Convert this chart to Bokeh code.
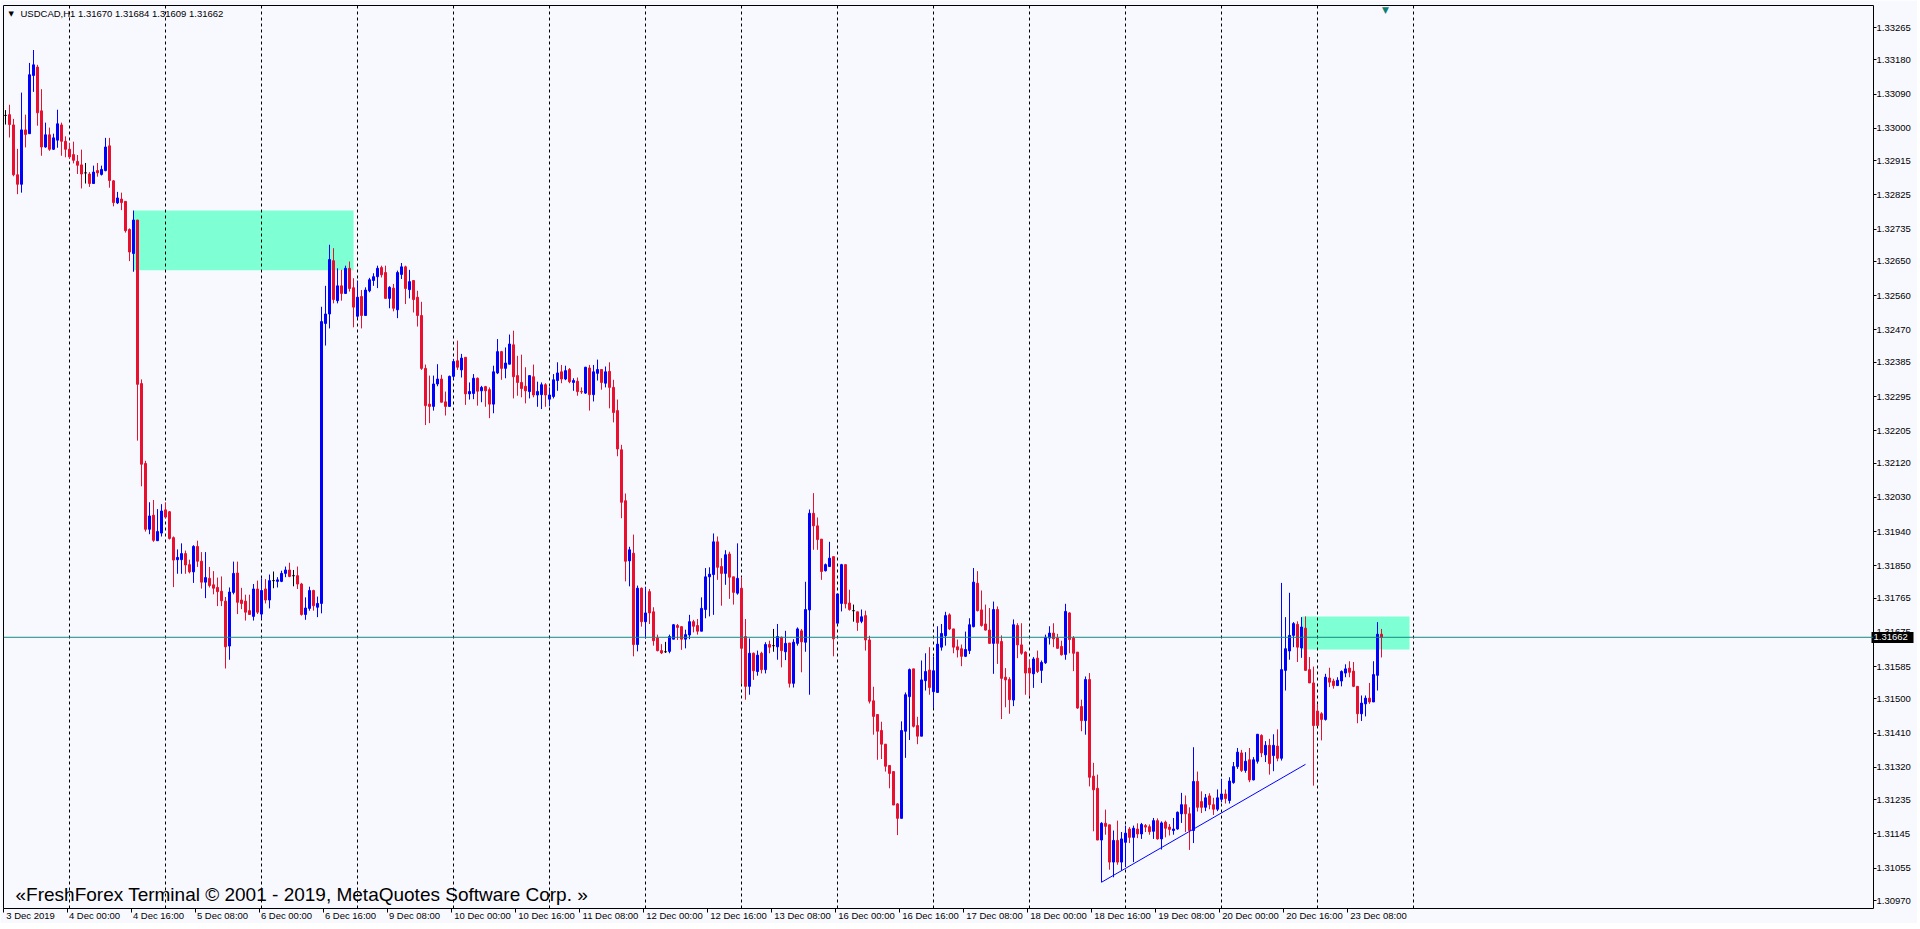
import math
import pandas as pd
from bokeh.plotting import figure
from bokeh.models import (Range1d, FixedTicker, PrintfTickFormatter, Span, Label,
                          ColumnDataSource, LinearAxis)
from bokeh.embed import file_html
from bokeh.resources import INLINE

symbol = "USDCAD,H1"
trading_days = ["2019-12-03", "2019-12-04", "2019-12-05", "2019-12-06", "2019-12-09",
                "2019-12-10", "2019-12-11", "2019-12-12", "2019-12-13", "2019-12-16",
                "2019-12-17", "2019-12-18", "2019-12-19", "2019-12-20", "2019-12-23"]
first_hour = 8
last_hour = 16

open_ = [
 1.33034, 1.33036, 1.33009, 1.32878, 1.32853, 1.32996, 1.32986, 1.33139, 1.33161, 1.33046,
 1.32951, 1.32983, 1.32945, 1.32969, 1.33009, 1.32966, 1.32945, 1.32931, 1.32913, 1.32904,
 1.32883, 1.32880, 1.32855, 1.32889, 1.32879, 1.32889, 1.32954, 1.32862, 1.32804, 1.32814,
 1.32808, 1.32734, 1.32671, 1.32759, 1.32329, 1.32119, 1.31946, 1.31983, 1.31916, 1.31936,
 1.31997, 1.31992, 1.31924, 1.31866, 1.31866, 1.31882, 1.31853, 1.31834, 1.31901, 1.31862,
 1.31807, 1.31817, 1.31800, 1.31793, 1.31783, 1.31757, 1.31639, 1.31780, 1.31831, 1.31760,
 1.31757, 1.31732, 1.31717, 1.31789, 1.31723, 1.31789, 1.31760, 1.31811, 1.31809, 1.31809,
 1.31830, 1.31839, 1.31824, 1.31824, 1.31802, 1.31722, 1.31738, 1.31785, 1.31741, 1.31751,
 1.32487, 1.32512, 1.32652, 1.32547, 1.32586, 1.32566, 1.32632, 1.32581, 1.32506, 1.32558,
 1.32508, 1.32573, 1.32600, 1.32610, 1.32634, 1.32621, 1.32553, 1.32580, 1.32523, 1.32616,
 1.32636, 1.32576, 1.32600, 1.32556, 1.32508, 1.32369, 1.32275, 1.32269, 1.32328, 1.32341,
 1.32281, 1.32269, 1.32348, 1.32389, 1.32365, 1.32398, 1.32302, 1.32303, 1.32343, 1.32310,
 1.32321, 1.32313, 1.32275, 1.32357, 1.32413, 1.32369, 1.32380, 1.32431, 1.32350, 1.32332,
 1.32322, 1.32308, 1.32347, 1.32299, 1.32300, 1.32326, 1.32288, 1.32295, 1.32337, 1.32360,
 1.32341, 1.32366, 1.32332, 1.32335, 1.32308, 1.32304, 1.32370, 1.32300, 1.32356, 1.32366,
 1.32330, 1.32361, 1.32319, 1.32258, 1.32155, 1.32021, 1.31863, 1.31883, 1.31643, 1.31791,
 1.31703, 1.31782, 1.31729, 1.31660, 1.31627, 1.31624, 1.31625, 1.31657, 1.31693, 1.31690,
 1.31657, 1.31668, 1.31703, 1.31693, 1.31678, 1.31735, 1.31821, 1.31827, 1.31913, 1.31848,
 1.31830, 1.31881, 1.31821, 1.31778, 1.31791, 1.31664, 1.31533, 1.31620, 1.31572, 1.31620,
 1.31577, 1.31643, 1.31640, 1.31637, 1.31662, 1.31624, 1.31647, 1.31541, 1.31646, 1.31679,
 1.31649, 1.31734, 1.31988, 1.31955, 1.31920, 1.31837, 1.31848, 1.31874, 1.31699, 1.31751,
 1.31853, 1.31752, 1.31732, 1.31729, 1.31704, 1.31719, 1.31655, 1.31495, 1.31459, 1.31417,
 1.31381, 1.31325, 1.31309, 1.31224, 1.31186, 1.31415, 1.31506, 1.31579, 1.31430, 1.31402,
 1.31548, 1.31576, 1.31519, 1.31517, 1.31636, 1.31666, 1.31721, 1.31684, 1.31637, 1.31632,
 1.31612, 1.31627, 1.31690, 1.31804, 1.31734, 1.31697, 1.31681, 1.31646, 1.31735, 1.31651,
 1.31557, 1.31551, 1.31497, 1.31693, 1.31642, 1.31623, 1.31581, 1.31566, 1.31607, 1.31575,
 1.31595, 1.31660, 1.31673, 1.31660, 1.31638, 1.31617, 1.31726, 1.31660, 1.31623, 1.31480,
 1.31443, 1.31551, 1.31297, 1.31265, 1.31129, 1.31173, 1.31169, 1.31071, 1.31128, 1.31071,
 1.31123, 1.31158, 1.31136, 1.31158, 1.31145, 1.31167, 1.31164, 1.31152, 1.31180, 1.31132,
 1.31176, 1.31163, 1.31154, 1.31158, 1.31198, 1.31222, 1.31198, 1.31154, 1.31283, 1.31230,
 1.31215, 1.31245, 1.31222, 1.31210, 1.31236, 1.31250, 1.31233, 1.31280, 1.31322, 1.31358,
 1.31312, 1.31340, 1.31287, 1.31336, 1.31404, 1.31353, 1.31378, 1.31351, 1.31376, 1.31344,
 1.31575, 1.31626, 1.31667, 1.31696, 1.31634, 1.31686, 1.31577, 1.31542, 1.31468, 1.31461,
 1.31446, 1.31555, 1.31547, 1.31535, 1.31547, 1.31568, 1.31581, 1.31573, 1.31533, 1.31461,
 1.31487, 1.31502, 1.31492, 1.31562, 1.31670]

high = [
 1.33048, 1.33062, 1.33025, 1.32946, 1.33094, 1.33036, 1.33172, 1.33206, 1.33167, 1.33103,
 1.33015, 1.33002, 1.32986, 1.33049, 1.33015, 1.32979, 1.32962, 1.32965, 1.32930, 1.32944,
 1.32909, 1.32885, 1.32902, 1.32909, 1.32902, 1.32975, 1.32975, 1.32864, 1.32833, 1.32831,
 1.32808, 1.32737, 1.32784, 1.32759, 1.32340, 1.32126, 1.32017, 1.32023, 1.31999, 1.32012,
 1.32017, 1.31994, 1.31927, 1.31893, 1.31909, 1.31890, 1.31866, 1.31904, 1.31916, 1.31886,
 1.31886, 1.31847, 1.31836, 1.31819, 1.31822, 1.31768, 1.31793, 1.31861, 1.31861, 1.31792,
 1.31774, 1.31774, 1.31802, 1.31811, 1.31817, 1.31815, 1.31827, 1.31835, 1.31820, 1.31837,
 1.31848, 1.31858, 1.31839, 1.31848, 1.31805, 1.31767, 1.31795, 1.31787, 1.31769, 1.32531,
 1.32586, 1.32694, 1.32685, 1.32632, 1.32628, 1.32639, 1.32650, 1.32606, 1.32600, 1.32575,
 1.32582, 1.32607, 1.32619, 1.32639, 1.32639, 1.32639, 1.32585, 1.32591, 1.32626, 1.32646,
 1.32639, 1.32628, 1.32600, 1.32573, 1.32544, 1.32379, 1.32350, 1.32350, 1.32380, 1.32352,
 1.32308, 1.32350, 1.32394, 1.32442, 1.32407, 1.32398, 1.32332, 1.32354, 1.32345, 1.32323,
 1.32323, 1.32319, 1.32376, 1.32446, 1.32415, 1.32424, 1.32458, 1.32468, 1.32402, 1.32405,
 1.32372, 1.32350, 1.32379, 1.32334, 1.32332, 1.32330, 1.32319, 1.32354, 1.32385, 1.32378,
 1.32376, 1.32370, 1.32343, 1.32345, 1.32319, 1.32373, 1.32378, 1.32378, 1.32392, 1.32366,
 1.32374, 1.32385, 1.32339, 1.32287, 1.32168, 1.32040, 1.31900, 1.31932, 1.31798, 1.31793,
 1.31795, 1.31789, 1.31741, 1.31669, 1.31644, 1.31650, 1.31669, 1.31697, 1.31697, 1.31690,
 1.31682, 1.31721, 1.31708, 1.31710, 1.31767, 1.31844, 1.31846, 1.31935, 1.31927, 1.31870,
 1.31891, 1.31887, 1.31821, 1.31909, 1.31821, 1.31710, 1.31659, 1.31622, 1.31627, 1.31624,
 1.31649, 1.31653, 1.31684, 1.31697, 1.31664, 1.31679, 1.31647, 1.31657, 1.31688, 1.31684,
 1.31808, 1.31998, 1.32041, 1.31977, 1.31920, 1.31856, 1.31913, 1.31874, 1.31776, 1.31855,
 1.31853, 1.31787, 1.31748, 1.31729, 1.31735, 1.31732, 1.31666, 1.31532, 1.31459, 1.31440,
 1.31381, 1.31326, 1.31309, 1.31226, 1.31441, 1.31517, 1.31580, 1.31579, 1.31453, 1.31601,
 1.31620, 1.31636, 1.31611, 1.31691, 1.31697, 1.31729, 1.31725, 1.31684, 1.31656, 1.31643,
 1.31677, 1.31712, 1.31844, 1.31836, 1.31785, 1.31748, 1.31739, 1.31756, 1.31743, 1.31667,
 1.31581, 1.31557, 1.31709, 1.31699, 1.31699, 1.31625, 1.31603, 1.31610, 1.31627, 1.31601,
 1.31669, 1.31691, 1.31699, 1.31671, 1.31653, 1.31750, 1.31728, 1.31665, 1.31623, 1.31498,
 1.31559, 1.31568, 1.31332, 1.31301, 1.31176, 1.31209, 1.31169, 1.31154, 1.31180, 1.31150,
 1.31167, 1.31163, 1.31167, 1.31173, 1.31174, 1.31171, 1.31170, 1.31187, 1.31186, 1.31178,
 1.31180, 1.31171, 1.31187, 1.31204, 1.31253, 1.31246, 1.31215, 1.31373, 1.31309, 1.31257,
 1.31250, 1.31252, 1.31240, 1.31262, 1.31290, 1.31262, 1.31294, 1.31334, 1.31371, 1.31366,
 1.31360, 1.31371, 1.31347, 1.31408, 1.31407, 1.31389, 1.31395, 1.31407, 1.31420, 1.31805,
 1.31715, 1.31779, 1.31702, 1.31704, 1.31715, 1.31717, 1.31610, 1.31585, 1.31487, 1.31465,
 1.31566, 1.31582, 1.31553, 1.31557, 1.31575, 1.31591, 1.31599, 1.31597, 1.31533, 1.31509,
 1.31509, 1.31542, 1.31599, 1.31702, 1.31684]

low = [
 1.33010, 1.32976, 1.32874, 1.32827, 1.32831, 1.32950, 1.32986, 1.33096, 1.33007, 1.32928,
 1.32949, 1.32941, 1.32943, 1.32949, 1.32928, 1.32924, 1.32920, 1.32908, 1.32880, 1.32842,
 1.32855, 1.32846, 1.32855, 1.32873, 1.32876, 1.32887, 1.32844, 1.32795, 1.32801, 1.32785,
 1.32726, 1.32651, 1.32623, 1.32179, 1.32059, 1.31940, 1.31933, 1.31913, 1.31916, 1.31927,
 1.31976, 1.31919, 1.31794, 1.31829, 1.31829, 1.31829, 1.31830, 1.31805, 1.31847, 1.31790,
 1.31765, 1.31793, 1.31775, 1.31744, 1.31744, 1.31580, 1.31603, 1.31775, 1.31723, 1.31736,
 1.31706, 1.31722, 1.31706, 1.31723, 1.31710, 1.31751, 1.31738, 1.31791, 1.31793, 1.31807,
 1.31820, 1.31820, 1.31796, 1.31789, 1.31719, 1.31708, 1.31732, 1.31732, 1.31715, 1.31725,
 1.32429, 1.32474, 1.32540, 1.32540, 1.32547, 1.32565, 1.32571, 1.32477, 1.32501, 1.32474,
 1.32508, 1.32569, 1.32586, 1.32580, 1.32608, 1.32553, 1.32527, 1.32519, 1.32501, 1.32604,
 1.32538, 1.32553, 1.32516, 1.32479, 1.32365, 1.32220, 1.32225, 1.32258, 1.32322, 1.32280,
 1.32245, 1.32269, 1.32340, 1.32365, 1.32345, 1.32273, 1.32287, 1.32288, 1.32271, 1.32280,
 1.32268, 1.32238, 1.32251, 1.32354, 1.32339, 1.32343, 1.32380, 1.32290, 1.32297, 1.32293,
 1.32277, 1.32290, 1.32293, 1.32268, 1.32262, 1.32268, 1.32269, 1.32290, 1.32310, 1.32330,
 1.32338, 1.32330, 1.32310, 1.32297, 1.32302, 1.32302, 1.32258, 1.32282, 1.32337, 1.32313,
 1.32319, 1.32264, 1.32227, 1.32138, 1.31975, 1.31809, 1.31796, 1.31612, 1.31625, 1.31690,
 1.31659, 1.31697, 1.31640, 1.31625, 1.31618, 1.31621, 1.31620, 1.31657, 1.31655, 1.31629,
 1.31633, 1.31657, 1.31675, 1.31669, 1.31678, 1.31712, 1.31717, 1.31721, 1.31813, 1.31745,
 1.31800, 1.31763, 1.31748, 1.31774, 1.31539, 1.31498, 1.31511, 1.31550, 1.31561, 1.31567,
 1.31567, 1.31620, 1.31624, 1.31603, 1.31583, 1.31602, 1.31530, 1.31530, 1.31640, 1.31570,
 1.31624, 1.31511, 1.31892, 1.31892, 1.31813, 1.31835, 1.31848, 1.31612, 1.31699, 1.31730,
 1.31738, 1.31732, 1.31703, 1.31679, 1.31699, 1.31627, 1.31488, 1.31406, 1.31340, 1.31342,
 1.31309, 1.31265, 1.31221, 1.31142, 1.31186, 1.31345, 1.31392, 1.31425, 1.31381, 1.31402,
 1.31522, 1.31511, 1.31476, 1.31517, 1.31627, 1.31640, 1.31681, 1.31620, 1.31609, 1.31586,
 1.31610, 1.31618, 1.31688, 1.31730, 1.31690, 1.31680, 1.31645, 1.31566, 1.31592, 1.31447,
 1.31478, 1.31461, 1.31481, 1.31607, 1.31616, 1.31511, 1.31507, 1.31529, 1.31568, 1.31542,
 1.31592, 1.31643, 1.31636, 1.31632, 1.31614, 1.31603, 1.31620, 1.31573, 1.31474, 1.31415,
 1.31406, 1.31270, 1.31152, 1.31129, 1.31018, 1.31143, 1.31051, 1.31031, 1.31064, 1.31049,
 1.31058, 1.31121, 1.31071, 1.31134, 1.31132, 1.31150, 1.31143, 1.31132, 1.31130, 1.31104,
 1.31136, 1.31141, 1.31143, 1.31156, 1.31174, 1.31150, 1.31103, 1.31121, 1.31204, 1.31200,
 1.31205, 1.31210, 1.31195, 1.31205, 1.31228, 1.31225, 1.31225, 1.31277, 1.31316, 1.31308,
 1.31306, 1.31281, 1.31286, 1.31330, 1.31347, 1.31334, 1.31301, 1.31310, 1.31336, 1.31338,
 1.31522, 1.31603, 1.31636, 1.31597, 1.31608, 1.31575, 1.31542, 1.31272, 1.31430, 1.31391,
 1.31443, 1.31531, 1.31527, 1.31534, 1.31533, 1.31557, 1.31557, 1.31531, 1.31436, 1.31442,
 1.31454, 1.31487, 1.31492, 1.31522, 1.31609]

close = [
 1.33034, 1.33010, 1.32878, 1.32853, 1.32996, 1.32984, 1.33141, 1.33167, 1.33041, 1.32951,
 1.32983, 1.32945, 1.32975, 1.33012, 1.32966, 1.32945, 1.32925, 1.32916, 1.32903, 1.32880,
 1.32883, 1.32855, 1.32885, 1.32883, 1.32892, 1.32951, 1.32863, 1.32805, 1.32817, 1.32805,
 1.32731, 1.32675, 1.32759, 1.32327, 1.32117, 1.31946, 1.31981, 1.31917, 1.31940, 1.31994,
 1.31978, 1.31922, 1.31865, 1.31872, 1.31882, 1.31852, 1.31834, 1.31901, 1.31862, 1.31807,
 1.31819, 1.31798, 1.31791, 1.31782, 1.31758, 1.31637, 1.31781, 1.31830, 1.31754, 1.31751,
 1.31728, 1.31722, 1.31789, 1.31728, 1.31785, 1.31760, 1.31811, 1.31811, 1.31813, 1.31830,
 1.31839, 1.31822, 1.31824, 1.31802, 1.31722, 1.31739, 1.31785, 1.31745, 1.31751, 1.32492,
 1.32512, 1.32655, 1.32550, 1.32586, 1.32566, 1.32632, 1.32579, 1.32530, 1.32556, 1.32508,
 1.32575, 1.32602, 1.32610, 1.32632, 1.32615, 1.32553, 1.32582, 1.32527, 1.32621, 1.32636,
 1.32579, 1.32597, 1.32550, 1.32508, 1.32369, 1.32271, 1.32269, 1.32328, 1.32341, 1.32280,
 1.32269, 1.32348, 1.32387, 1.32372, 1.32396, 1.32302, 1.32308, 1.32343, 1.32309, 1.32319,
 1.32310, 1.32275, 1.32360, 1.32413, 1.32369, 1.32383, 1.32433, 1.32347, 1.32332, 1.32316,
 1.32310, 1.32350, 1.32299, 1.32308, 1.32326, 1.32299, 1.32299, 1.32339, 1.32357, 1.32341,
 1.32363, 1.32334, 1.32337, 1.32308, 1.32307, 1.32372, 1.32300, 1.32360, 1.32366, 1.32332,
 1.32360, 1.32319, 1.32253, 1.32157, 1.32017, 1.31862, 1.31892, 1.31643, 1.31791, 1.31703,
 1.31726, 1.31726, 1.31653, 1.31627, 1.31621, 1.31624, 1.31664, 1.31695, 1.31688, 1.31657,
 1.31669, 1.31703, 1.31691, 1.31678, 1.31738, 1.31821, 1.31828, 1.31913, 1.31846, 1.31830,
 1.31879, 1.31820, 1.31780, 1.31817, 1.31633, 1.31533, 1.31620, 1.31574, 1.31615, 1.31577,
 1.31643, 1.31636, 1.31640, 1.31664, 1.31627, 1.31646, 1.31541, 1.31649, 1.31684, 1.31650,
 1.31735, 1.31988, 1.31955, 1.31919, 1.31835, 1.31853, 1.31870, 1.31658, 1.31776, 1.31853,
 1.31750, 1.31735, 1.31732, 1.31701, 1.31716, 1.31655, 1.31494, 1.31454, 1.31415, 1.31381,
 1.31323, 1.31304, 1.31221, 1.31186, 1.31417, 1.31511, 1.31577, 1.31428, 1.31402, 1.31550,
 1.31572, 1.31530, 1.31574, 1.31644, 1.31672, 1.31719, 1.31684, 1.31636, 1.31629, 1.31612,
 1.31630, 1.31695, 1.31807, 1.31732, 1.31693, 1.31681, 1.31646, 1.31735, 1.31646, 1.31554,
 1.31550, 1.31498, 1.31695, 1.31642, 1.31620, 1.31568, 1.31568, 1.31605, 1.31572, 1.31596,
 1.31662, 1.31673, 1.31658, 1.31633, 1.31616, 1.31730, 1.31656, 1.31620, 1.31476, 1.31443,
 1.31551, 1.31294, 1.31261, 1.31129, 1.31173, 1.31165, 1.31071, 1.31128, 1.31071, 1.31132,
 1.31147, 1.31136, 1.31160, 1.31145, 1.31170, 1.31163, 1.31151, 1.31180, 1.31132, 1.31174,
 1.31160, 1.31157, 1.31158, 1.31202, 1.31222, 1.31198, 1.31154, 1.31283, 1.31215, 1.31215,
 1.31240, 1.31222, 1.31210, 1.31240, 1.31250, 1.31238, 1.31284, 1.31322, 1.31360, 1.31312,
 1.31336, 1.31287, 1.31340, 1.31407, 1.31358, 1.31378, 1.31330, 1.31378, 1.31344, 1.31577,
 1.31632, 1.31667, 1.31698, 1.31636, 1.31689, 1.31575, 1.31542, 1.31430, 1.31430, 1.31446,
 1.31557, 1.31544, 1.31535, 1.31549, 1.31572, 1.31579, 1.31570, 1.31533, 1.31461, 1.31489,
 1.31502, 1.31492, 1.31564, 1.31670, 1.31662]

bid_price = 1.31662
price_ticks = [1.33265, 1.33180, 1.33090, 1.33000, 1.32915, 1.32825, 1.32735, 1.32650,
               1.32560, 1.32470, 1.32385, 1.32295, 1.32205, 1.32120, 1.32030, 1.31940,
               1.31850, 1.31765, 1.31675, 1.31585, 1.31500, 1.31410, 1.31320, 1.31235,
               1.31145, 1.31055, 1.30970]
x_tick_labels = ["3 Dec 2019", "4 Dec 00:00", "4 Dec 16:00", "5 Dec 08:00", "6 Dec 00:00",
                 "6 Dec 16:00", "9 Dec 08:00", "10 Dec 00:00", "10 Dec 16:00", "11 Dec 08:00",
                 "12 Dec 00:00", "12 Dec 16:00", "13 Dec 08:00", "16 Dec 00:00", "16 Dec 16:00",
                 "17 Dec 08:00", "18 Dec 00:00", "18 Dec 16:00", "19 Dec 08:00", "20 Dec 00:00",
                 "20 Dec 16:00", "23 Dec 08:00"]

zone_start = ["2019-12-04 16:00", "2019-12-20 20:00"]
zone_end = ["2019-12-06 23:00", "2019-12-23 23:00"]
zone_low = [1.32627, 1.31630]
zone_high = [1.32784, 1.31717]

trend_times = ["2019-12-18 18:00", "2019-12-20 21:00"]
trend_prices = [1.31018, 1.31328]

header_text = "USDCAD,H1  1.31670 1.31684 1.31609 1.31662"
copyright_text = "\u00abFreshForex Terminal \u00a9 2001 - 2019, MetaQuotes Software Corp. \u00bb"

# ---------------- styling ----------------
BG = "#F8F8FF"
BULL = "#0000FF"
BEAR = "#E8102E"
DOJI = "#000000"
ZONE = "#7FFFD4"
BIDLINE = "#138A80"
FONT = "Liberation Sans"
AXIS_PX = 9.5
PX_PER_BAR = 4.0

n = len(open_)
assert len(high) == n and len(low) == n and len(close) == n, (len(open_), len(high), len(low), len(close))

# time axis (one bar per hour, weekends skipped like MT4)
times = []
for k, d in enumerate(trading_days):
    h0 = first_hour if k == 0 else 0
    h1 = last_hour if k == len(trading_days) - 1 else 23
    for h in range(h0, h1 + 1):
        times.append(pd.Timestamp(d) + pd.Timedelta(hours=h))
assert len(times) == n, (len(times), n)
# future bars of the last trading day (chart shift area)
future = [times[-1] + pd.Timedelta(hours=h) for h in range(1, 32)]
all_times = times + future
pos = {t: i for i, t in enumerate(all_times)}


def idx(s):
    return pos[pd.Timestamp(s)]


xs = list(range(n))
colors = [BULL if c > o else (BEAR if c < o else DOJI) for o, c in zip(open_, close)]
src = ColumnDataSource(dict(
    x=xs, top=[max(o, c) for o, c in zip(open_, close)],
    bottom=[min(o, c) for o, c in zip(open_, close)],
    high=high, low=low, color=colors))

FW, FH = 1870, 903
x_end = -0.5 + FW / PX_PER_BAR
p = figure(frame_width=FW, frame_height=FH,
           x_range=Range1d(-0.5, x_end),
           y_range=Range1d(1.30949, 1.33323),
           y_axis_location="right", output_backend="svg", toolbar_location=None,
           min_border_left=3, min_border_top=5, min_border_right=44, min_border_bottom=12,
           background_fill_color=BG, border_fill_color=BG,
           outline_line_color="black", outline_line_width=1)
p.xgrid.visible = False
p.ygrid.visible = False

# zones (drawn behind everything)
zsrc = ColumnDataSource(dict(left=[idx(s) for s in zone_start], right=[idx(e) for e in zone_end],
                             bottom=zone_low, top=zone_high))
zr = p.quad(left="left", right="right", bottom="bottom", top="top", source=zsrc,
            fill_color=ZONE, line_color=None)
zr.level = "image"

# period separators (one per day start)
for i, t in enumerate(all_times):
    if t.hour == 0 and t.date() != all_times[0].date():
        p.add_layout(Span(location=i, dimension="height", line_color="black",
                          line_dash="3 3", line_width=1, level="underlay"))

# candles
p.segment(x0="x", y0="low", x1="x", y1="high", color="color", line_width=1, source=src)
p.vbar(x="x", width=0.5, top="top", bottom="bottom", fill_color="color", line_color="color",
       line_width=1, source=src)

# trend line
p.line(x=[idx(t) for t in trend_times], y=trend_prices, line_color=BULL, line_width=1)

# bid line
p.add_layout(Span(location=bid_price, dimension="width", line_color=BIDLINE, line_width=1))

# ---- x axis: labels start just right of their tick (MT4 style) ----
CHAR_W = {"0": .556, "1": .556, "2": .556, "3": .556, "4": .556, "5": .556, "6": .556,
          "7": .556, "8": .556, "9": .556, " ": .278, ":": .278, "D": .722, "e": .556, "c": .5}


def tick_index(lbl):
    if lbl.endswith("2019"):
        return 0
    return pos[pd.Timestamp(pd.to_datetime("2019 " + lbl, format="%Y %d %b %H:%M"))]


tick_pos = [tick_index(l) for l in x_tick_labels]
centers = []
for t, l in zip(tick_pos, x_tick_labels):
    w = sum(CHAR_W.get(ch, .556) for ch in l) * AXIS_PX
    off = (w / 2) / PX_PER_BAR
    off = math.floor(off * 2) / 2 + 0.25
    centers.append(t + off)
p.xaxis.ticker = FixedTicker(ticks=centers, minor_ticks=[t - 0.5 for t in tick_pos])
p.xaxis.major_label_overrides = {c: l for c, l in zip(centers, x_tick_labels)}
p.xaxis.axis_line_color = None
p.xaxis.major_tick_line_color = None
p.xaxis.major_tick_out = 0
p.xaxis.major_tick_in = 0
p.xaxis.minor_tick_line_color = "black"
p.xaxis.minor_tick_out = 4
p.xaxis.minor_tick_in = 0
p.xaxis.major_label_standoff = -3
p.xaxis.major_label_text_font = FONT
p.xaxis.major_label_text_font_size = "%spx" % AXIS_PX
p.xaxis.major_label_text_color = "black"

# ---- y axis (price scale on the right) ----
p.yaxis.ticker = FixedTicker(ticks=price_ticks)
p.yaxis.formatter = PrintfTickFormatter(format="%.5f")
p.yaxis.axis_line_color = None
p.yaxis.major_tick_out = 3
p.yaxis.major_tick_in = 0
p.yaxis.minor_tick_line_color = None
p.yaxis.major_tick_line_color = "black"
p.yaxis.major_label_text_font = FONT
p.yaxis.major_label_text_font_size = "%spx" % AXIS_PX
p.yaxis.major_label_text_color = "black"
p.yaxis.major_label_standoff = 0

# ---- current price box on the price scale (drawn back over the main scale) ----
bid_axis = LinearAxis(ticker=FixedTicker(ticks=[bid_price], minor_ticks=[bid_price]),
                      formatter=PrintfTickFormatter(format="%.5f"),
                      axis_line_color=None,
                      major_tick_line_color=None, major_tick_out=0, major_tick_in=0,
                      minor_tick_line_color="black", minor_tick_line_width=11,
                      minor_tick_out=0, minor_tick_in=42,
                      major_label_text_color="white", major_label_text_font=FONT,
                      major_label_text_font_size="%spx" % AXIS_PX,
                      major_label_standoff=-40)
p.add_layout(bid_axis, "right")

# header
p.add_layout(Label(x=5, y=FH - 4, x_units="screen", y_units="screen", text="\u25bc",
                   text_font="DejaVu Sans", text_font_size="7px", text_baseline="top",
                   text_color="black"))
p.add_layout(Label(x=17, y=FH - 2, x_units="screen", y_units="screen", text=header_text,
                   text_font=FONT, text_font_size="9.5px", text_baseline="top",
                   text_color="black"))

# chart shift marker
p.add_layout(Label(x=n, y=FH + 1, x_units="data", y_units="screen", text="\u25bc",
                   text_font="DejaVu Sans", text_font_size="9px", text_baseline="top",
                   text_align="center", text_color="#0E7C74"))

# copyright
p.add_layout(Label(x=12, y=14, x_units="screen", y_units="screen", text=copyright_text,
                   text_font=FONT, text_font_size="19px", text_baseline="middle",
                   text_color="black"))

open("out.html", "w").write(file_html(p, INLINE))
